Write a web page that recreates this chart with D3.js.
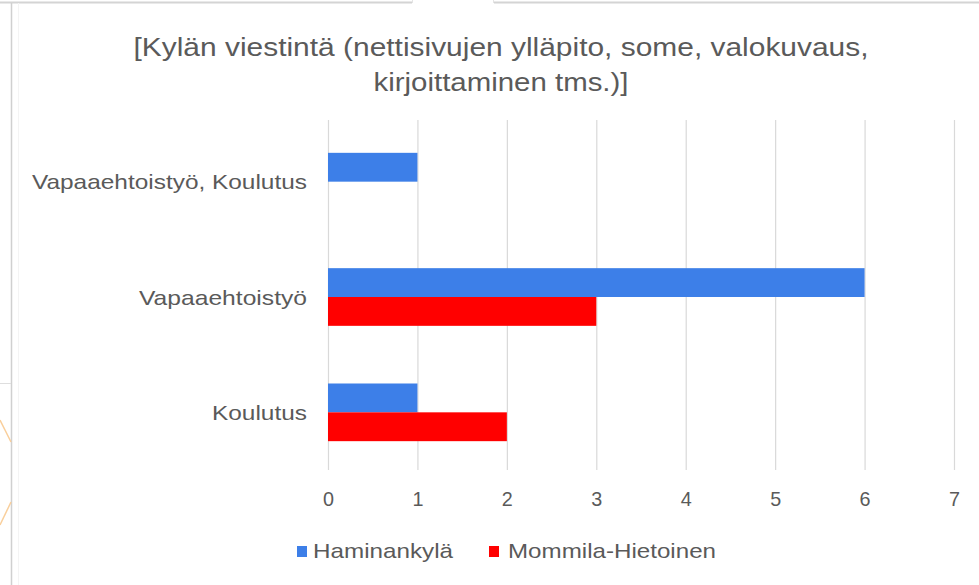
<!DOCTYPE html>
<html>
<head>
<meta charset="utf-8">
<script src="https://cdn.jsdelivr.net/npm/d3@7"></script>
<style>
  html, body { margin: 0; padding: 0; background: #fff; }
  svg { display: block; }
  text { font-family: "Liberation Sans", Arial, sans-serif; fill: #5a5a5a; }
</style>
</head>
<body>
<svg id="chart" width="979" height="585"></svg>
<script>
// Chart content
const titleLines = ["[Kylän viestintä (nettisivujen ylläpito, some, valokuvaus,", "kirjoittaminen tms.)]"];
const categories = ["Vapaaehtoistyö, Koulutus", "Vapaaehtoistyö", "Koulutus"];
const seriesNames = ["Haminankylä", "Mommila-Hietoinen"];
const haminankyla = [1, 6, 1];
const mommilaHietoinen = [null, 3, 2];
const xTicks = [0, 1, 2, 3, 4, 5, 6, 7];

const seriesColors = ["#3d7fe8", "#ff0000"];
const seriesValues = [haminankyla, mommilaHietoinen];

const svg = d3.select("#chart");
const W = 979, H = 585;

// Plot area
const plot = { left: 328, right: 954, top: 124, bottom: 470, gridTop: 120 };

// Frame around the chart object
const frame = svg.append("g").attr("class", "frame");
frame.append("line").attr("x1", 0).attr("x2", 412).attr("y1", 2.5).attr("y2", 2.5)
  .attr("stroke", "#d4d4d4").attr("stroke-width", 2);
frame.append("line").attr("x1", 494).attr("x2", W).attr("y1", 2.5).attr("y2", 2.5)
  .attr("stroke", "#d4d4d4").attr("stroke-width", 2);
frame.append("line").attr("x1", 412.5).attr("x2", 412.5).attr("y1", 0).attr("y2", 3)
  .attr("stroke", "#e4e4e4");
frame.append("line").attr("x1", 493.5).attr("x2", 493.5).attr("y1", 0).attr("y2", 3)
  .attr("stroke", "#e4e4e4");
frame.append("line").attr("x1", 11.5).attr("x2", 11.5).attr("y1", 3).attr("y2", H)
  .attr("stroke", "#d0d0d0").attr("stroke-width", 1.5);
frame.append("line").attr("x1", 18.5).attr("x2", 18.5).attr("y1", 3).attr("y2", H)
  .attr("stroke", "#f4f4f4");
frame.append("line").attr("x1", 0).attr("x2", 11).attr("y1", 383.5).attr("y2", 383.5)
  .attr("stroke", "#dedede");
frame.append("line").attr("x1", 0).attr("x2", 11).attr("y1", 420).attr("y2", 442)
  .attr("stroke", "#f9cf9c").attr("stroke-width", 1.5);
frame.append("line").attr("x1", 11).attr("x2", 0).attr("y1", 502).attr("y2", 525)
  .attr("stroke", "#f9cf9c").attr("stroke-width", 1.5);

// Title: tall, slightly condensed lettering
const title = svg.append("g").attr("class", "title");
const titleLayout = [{ y: 56, len: 735 }, { y: 91, len: 255 }];
titleLines.forEach((t, i) => {
  title.append("text")
    .attr("x", 501).attr("y", titleLayout[i].y)
    .attr("text-anchor", "middle")
    .attr("font-size", 25)
    .attr("textLength", titleLayout[i].len)
    .attr("lengthAdjust", "spacingAndGlyphs")
    .text(t);
});

// Scales
const x = d3.scaleLinear().domain([0, 7]).range([plot.left, plot.right]);
const y = d3.scaleBand().domain(categories).range([plot.top, plot.bottom])
  .paddingInner(0.5).paddingOuter(0.25);
const ySub = d3.scaleBand().domain(seriesNames).range([0, y.bandwidth()]);

// Vertical gridlines and value axis labels
const xAxis = d3.axisBottom(x).tickValues(xTicks)
  .tickSize(-(plot.bottom - plot.gridTop)).tickPadding(0)
  .tickFormat(d3.format("d"));
const gx = svg.append("g").attr("transform", `translate(0,${plot.bottom})`).call(xAxis);
gx.select(".domain").remove();
gx.selectAll(".tick line").attr("stroke", "#d9d9d9").attr("stroke-width", 1.2);
gx.selectAll(".tick text")
  .attr("y", 36).attr("dy", 0)
  .attr("font-size", 21)
  .attr("font-family", null)
  .attr("fill", "#5a5a5a")
  .attr("textLength", 11)
  .attr("lengthAdjust", "spacingAndGlyphs");

// Bars
const rows = categories.map((c, i) => ({
  category: c,
  values: seriesNames.map((s, j) => ({ series: s, value: seriesValues[j][i], color: seriesColors[j] }))
}));
const groups = svg.append("g").attr("class", "bars")
  .selectAll("g").data(rows).join("g")
  .attr("transform", d => `translate(0,${y(d.category)})`);
groups.selectAll("rect")
  .data(d => d.values.filter(v => v.value != null))
  .join("rect")
  .attr("x", x(0))
  .attr("y", d => ySub(d.series))
  .attr("width", d => x(d.value) - x(0))
  .attr("height", ySub.bandwidth())
  .attr("fill", d => d.color);

// Category axis labels
const yAxis = d3.axisLeft(y).tickSize(0).tickPadding(plot.left - 307);
const gy = svg.append("g").attr("transform", `translate(${plot.left},0)`).call(yAxis);
gy.select(".domain").remove();
const catLen = { "Vapaaehtoistyö, Koulutus": 275, "Vapaaehtoistyö": 168, "Koulutus": 95 };
gy.selectAll(".tick text")
  .attr("font-size", 21)
  .attr("font-family", null)
  .attr("fill", "#5a5a5a")
  .attr("dy", "0.36em")
  .attr("textLength", d => catLen[d])
  .attr("lengthAdjust", "spacingAndGlyphs");

// Legend
const legendLayout = [{ box: 297, text: 313, len: 140 }, { box: 489, text: 508, len: 208 }];
const legend = svg.append("g").attr("class", "legend");
seriesNames.forEach((s, i) => {
  legend.append("rect")
    .attr("x", legendLayout[i].box).attr("y", 546)
    .attr("width", 10).attr("height", 11)
    .attr("fill", seriesColors[i]);
  legend.append("text")
    .attr("x", legendLayout[i].text).attr("y", 558)
    .attr("font-size", 21)
    .attr("textLength", legendLayout[i].len)
    .attr("lengthAdjust", "spacingAndGlyphs")
    .text(s);
});
</script>
</body>
</html>
